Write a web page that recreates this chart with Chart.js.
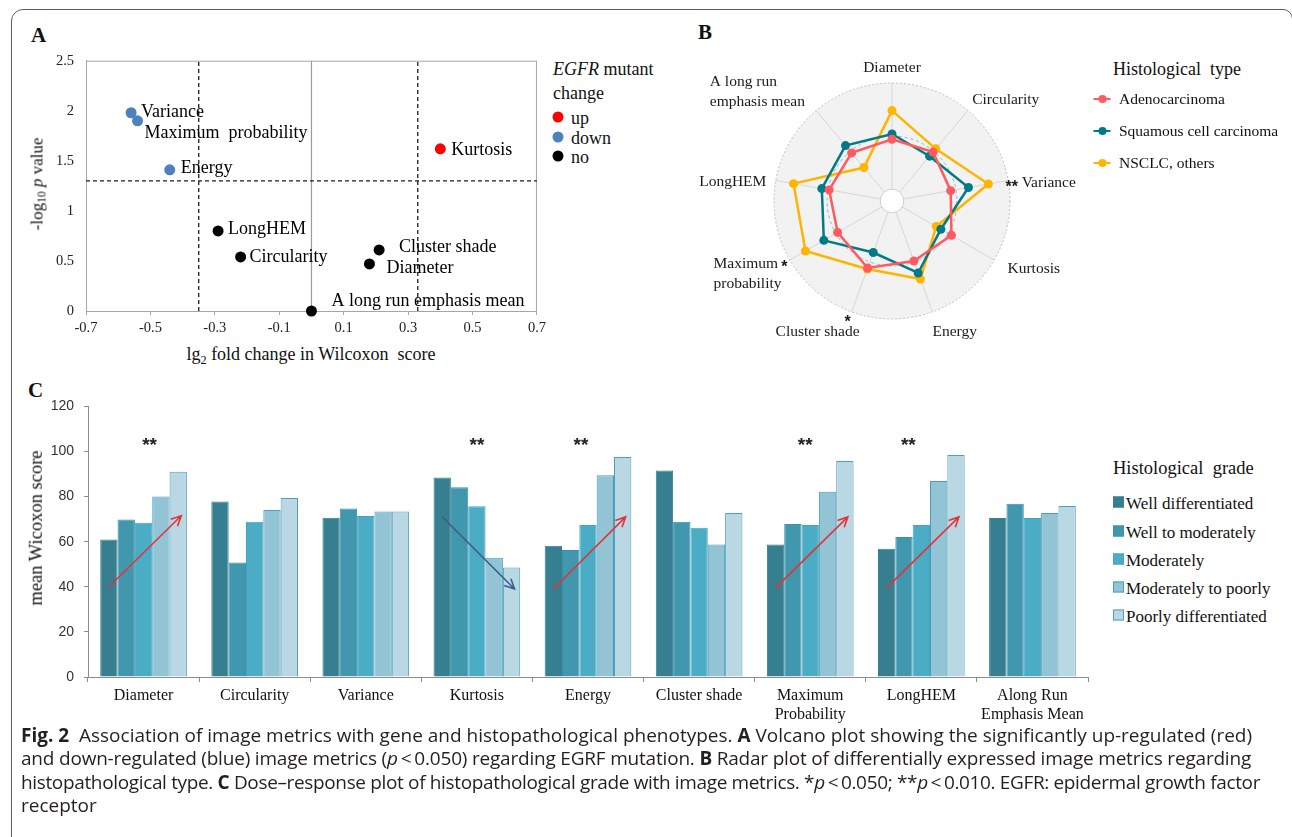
<!DOCTYPE html>
<html lang="en">
<head>
<meta charset="utf-8">
<title>Fig. 2 – Image metrics, EGFR mutation and histopathology</title>
<script src="https://cdn.jsdelivr.net/npm/chart.js@4.4.1/dist/chart.umd.min.js"></script>
<style>
  html, body { margin: 0; padding: 0; background: #fff; }
  body { position: relative; width: 1292px; height: 837px; overflow: hidden;
         font-family: "Liberation Serif", "Times New Roman", serif; color: #111; }
  .frame { position: absolute; left: 11px; top: 9px; width: 1282px; height: 900px;
           border: 1.5px solid #5c5c5c; border-radius: 12px 10px 0 0; box-sizing: border-box; }
  .abs { position: absolute; white-space: nowrap; line-height: 1; }
  .lm { transform: translateY(-50%); }
  .ctr { transform: translate(-50%, -50%); }
  .rot { transform: translate(-50%, -50%) rotate(-90deg); }
  .letter { position: absolute; font-weight: bold; font-size: 21px; line-height: 1; }
  canvas { position: absolute; }
  sub { font-size: 0.68em; vertical-align: -0.3em; line-height: 0; }
  .dot { position: absolute; width: 11px; height: 11px; border-radius: 50%; transform: translate(-50%, -50%); }
  .lineKey { position: absolute; width: 17px; height: 2px; transform: translate(-50%, -50%); }
  .lineKey::after { content: ""; position: absolute; left: 4.5px; top: -3.5px; width: 8px; height: 8px;
                    border-radius: 50%; background: inherit; }
  .sq { position: absolute; width: 9px; height: 9px; transform: translateY(-50%); border: 1px solid; }
  .caption { position: absolute; left: 21px; top: 724px; font-family: "Open Sans", "Liberation Sans", Arial, sans-serif;
             font-size: 17px; line-height: 23.4px; color: #231f20; white-space: nowrap; }
  .caption div { height: 23.4px; }
</style>
</head>
<body>
<div class="frame"></div>

<div class="letter" style="left:31px; top:25px;">A</div>
<div class="letter" style="left:698px; top:22px;">B</div>
<div class="letter" style="left:28px; top:380px;">C</div>

<!-- Panel A: volcano plot -->
<canvas id="volcano" width="520" height="300" style="left:30px; top:40px;"></canvas>
<div class="abs rot" style="left:37px; top:184px; font-size:17px;">-log<sub>10</sub> <i>p</i> value</div>
<div class="abs ctr" style="left:311px; top:354px; font-size:18px;">lg<sub>2</sub> fold change in Wilcoxon&nbsp; score</div>
<div id="volcanoLegend"></div>

<!-- Panel B: radar plot -->
<canvas id="radar" width="404" height="320" style="left:690px; top:40px;"></canvas>
<div id="radarLegend"></div>

<!-- Panel C: grouped bars -->
<canvas id="grades" width="1082" height="342" style="left:20px; top:388px;"></canvas>
<div class="abs rot" style="left:36px; top:528px; font-size:18.5px;">mean Wicoxon score</div>
<div id="gradeLegend"></div>

<div class="caption" id="caption">
<div><span class="capline" data-width="1231"><b>Fig. 2</b>&nbsp; Association of image metrics with gene and histopathological phenotypes. <b>A</b> Volcano plot showing the significantly up-regulated (red)</span></div>
<div><span class="capline" data-width="1230">and down-regulated (blue) image metrics (<i>p</i>&thinsp;&lt;&thinsp;0.050) regarding EGRF mutation. <b>B</b> Radar plot of differentially expressed image metrics regarding</span></div>
<div><span class="capline" data-width="1239">histopathological type. <b>C</b> Dose–response plot of histopathological grade with image metrics. *<i>p</i>&thinsp;&lt;&thinsp;0.050; **<i>p</i>&thinsp;&lt;&thinsp;0.010. EGFR: epidermal growth factor</span></div>
<div><span>receptor</span></div>
</div>

<script>
// ---------- Panel A: volcano plot data ----------
const volcanoMetrics = ['Variance', 'Maximum  probability', 'Energy', 'Kurtosis', 'LongHEM',
                        'Circularity', 'Cluster shade', 'Diameter', 'A long run emphasis mean'];
const volcanoFoldChange = [-0.56, -0.54, -0.44, 0.40, -0.29, -0.22, 0.21, 0.18, 0.00];
const volcanoNegLogP = [1.98, 1.90, 1.41, 1.62, 0.80, 0.54, 0.61, 0.47, 0.00];
const volcanoChange = ['down', 'down', 'down', 'up', 'no', 'no', 'no', 'no', 'no'];
const volcanoFoldCutoffs = [-0.35, 0.33];
const volcanoPCutoff = 1.30;
const volcanoXTicks = [-0.7, -0.5, -0.3, -0.1, 0.1, 0.3, 0.5, 0.7];
const volcanoYTicks = [0, 0.5, 1, 1.5, 2, 2.5];
const changeKeys = ['up', 'down', 'no'];

// ---------- Panel B: radar data ----------
const radarAxes = ['Diameter', 'Circularity', 'Variance', 'Kurtosis', 'Energy', 'Cluster shade',
                   'Maximum probability', 'LongHEM', 'A long run emphasis mean'];
const radarAxisLines = [['Diameter'], ['Circularity'], ['Variance'], ['Kurtosis'], ['Energy'], ['Cluster shade'],
                        ['Maximum', 'probability'], ['LongHEM'], ['A long run', 'emphasis mean']];
const radarSignificance = ['', '', '**', '', '', '*', '*', '', ''];
const histTypes = ['Adenocarcinoma', 'Squamous cell carcinoma', 'NSCLC, others'];
const adenocarcinoma = [0.47, 0.49, 0.45, 0.535, 0.49, 0.56, 0.48, 0.49, 0.48];
const squamousCell   = [0.52, 0.44, 0.62, 0.42, 0.61, 0.405, 0.63, 0.56, 0.57];
const nsclcOthers    = [0.74, 0.53, 0.81, 0.37, 0.67, 0.57, 0.83, 0.83, 0.30];
const radarGridLevels = [0, 0.5, 1];

// ---------- Panel C: histological grade data ----------
const gradeCategories = [['Diameter'], ['Circularity'], ['Variance'], ['Kurtosis'], ['Energy'], ['Cluster shade'],
                         ['Maximum', 'Probability'], ['LongHEM'], ['Along Run', 'Emphasis Mean']];
const gradeNames = ['Well differentiated', 'Well to moderately', 'Moderately', 'Moderately to poorly', 'Poorly differentiated'];
const wellDifferentiated   = [61.0, 77.8, 70.6, 88.5, 58.2, 91.6, 58.8, 56.9, 70.5];
const wellToModerately     = [69.9, 50.8, 74.7, 84.2, 56.3, 68.9, 67.8, 62.1, 76.8];
const moderatelyDiff       = [68.4, 68.9, 71.4, 75.7, 67.4, 66.2, 67.4, 67.4, 70.5];
const moderatelyToPoorly   = [80.0, 74.1, 73.4, 52.9, 89.5, 58.8, 82.2, 86.9, 72.7];
const poorlyDifferentiated = [91.0, 79.4, 73.4, 48.6, 97.6, 72.7, 95.8, 98.5, 75.8];
const gradeSignificance = ['**', '', '', '**', '**', '', '**', '**', ''];
const trendStart = [40, null, null, 71, 39, null, 39.5, 39.5, null];
const trendEnd   = [71.5, null, null, 39, 71, null, 71, 71, null];
const gradeYTicks = [0, 20, 40, 60, 80, 100, 120];

// ---------- Styles ----------
const SERIF = '"Liberation Serif", "Times New Roman", serif';
const SANS = '"Liberation Sans", Arial, sans-serif';
Chart.defaults.font.family = SERIF;
Chart.defaults.color = '#111';
const changeColors = { up: '#FF0000', down: '#4F81BD', no: '#000000' };
const typeColors = ['#FF5A5F', '#007A87', '#FFB400'];
const gradeFill = ['#357F90', '#4097AE', '#4BACC6', '#93C4D6', '#BAD8E4'];
const gradeEdge = ['#357F90', '#3B91A9', '#45A5BF', '#4A9EBA', '#4BA0BD'];
const axisGrey = '#A6A6A6';

// label offsets (px) from each volcano point, in metric order
const volcanoLabelShift = [[10, 0], [7, 12], [11, -2], [11, 1], [10, -2], [9, 0], [20, -3], [17, 4], [20, -10]];
// radar label anchors: alignment and nudges from the 1.15 x radius position
const radarLabelLayout = [
  { align: 'center', dx: 0, dy: 3 }, { align: 'left', dx: -7, dy: 3 }, { align: 'left', dx: -4, dy: 5 },
  { align: 'left', dx: -2, dy: 0 }, { align: 'left', dx: -6, dy: 3 }, { align: 'center', dx: -28, dy: 3 },
  { align: 'left', dx: -61, dy: 5 }, { align: 'right', dx: 8, dy: 4 }, { align: 'left', dx: -95, dy: -5 }
];
const radarStarShift = [null, null, [-14, 6], null, null, [2, -10], [10, -5], null, null];
const gradeStarShift = [6, 0, 0, 0, -7, 0, -5, -13, 0];
const gradeStarValue = 105;

// ================= Panel A =================
const volcanoSets = changeKeys.map(key => ({
  label: key,
  data: volcanoMetrics.map((m, i) => ({ x: volcanoFoldChange[i], y: volcanoNegLogP[i], idx: i }))
                      .filter(p => volcanoChange[p.idx] === key),
  backgroundColor: changeColors[key], borderColor: changeColors[key],
  pointRadius: 5.5, pointHoverRadius: 5.5, pointBorderWidth: 0, clip: false, metricPoints: true
}));
const refLine = (pts, color, dash, width) => ({
  data: pts, showLine: true, borderColor: color, borderDash: dash, borderWidth: width,
  pointRadius: 0, pointHoverRadius: 0, fill: false
});
const volcanoRefSets = [
  ...volcanoFoldCutoffs.map(c => refLine([{ x: c, y: 0 }, { x: c, y: 2.5 }], '#1c1c1c', [4, 3], 1.3)),
  refLine([{ x: -0.7, y: volcanoPCutoff }, { x: 0.7, y: volcanoPCutoff }], '#1c1c1c', [4, 3], 1.3),
  refLine([{ x: 0, y: 0 }, { x: 0, y: 2.5 }], '#9a9a9a', [], 1.2)
];

const volcanoDecor = {
  id: 'volcanoDecor',
  beforeDatasetsDraw(chart) {
    const { ctx, chartArea: a } = chart;
    ctx.save();
    ctx.strokeStyle = axisGrey; ctx.lineWidth = 1;
    ctx.strokeRect(a.left + 0.5, a.top + 0.5, a.right - a.left - 1, a.bottom - a.top);
    ctx.restore();
  },
  afterDatasetsDraw(chart) {
    const ctx = chart.ctx;
    ctx.save();
    ctx.font = '18px ' + SERIF;
    ctx.fillStyle = '#000';
    ctx.textAlign = 'left';
    ctx.textBaseline = 'middle';
    chart.data.datasets.forEach((ds, di) => {
      if (!ds.metricPoints) return;
      chart.getDatasetMeta(di).data.forEach((pt, k) => {
        const idx = ds.data[k].idx;
        const [dx, dy] = volcanoLabelShift[idx];
        ctx.fillText(volcanoMetrics[idx], pt.x + dx, pt.y + dy);
      });
    });
    ctx.restore();
  }
};

new Chart(document.getElementById('volcano'), {
  type: 'scatter',
  data: { datasets: [...volcanoSets, ...volcanoRefSets] },
  plugins: [volcanoDecor],
  options: {
    responsive: false, animation: false,
    layout: { padding: { left: 0, right: 12, top: 16, bottom: 0 } },
    plugins: { legend: { display: false }, tooltip: { enabled: false } },
    scales: {
      x: {
        type: 'linear', min: -0.7, max: 0.7,
        afterBuildTicks: s => { s.ticks = volcanoXTicks.map(v => ({ value: v })); },
        afterFit: s => { s.height = 29; },
        ticks: { font: { size: 14.5 }, color: '#222', padding: 4, callback: v => v.toFixed(1) },
        grid: { display: true, drawOnChartArea: false, drawTicks: true, tickLength: 4, color: axisGrey },
        border: { display: true, color: axisGrey }
      },
      y: {
        type: 'linear', min: 0, max: 2.5,
        afterBuildTicks: s => { s.ticks = volcanoYTicks.map(v => ({ value: v })); },
        afterFit: s => { s.width = 56; },
        ticks: { font: { size: 14.5 }, color: '#222', padding: 12, callback: v => String(v) },
        grid: { display: false, drawTicks: false },
        border: { display: true, color: axisGrey }
      }
    }
  }
});

// Panel A legend
(function () {
  const box = document.getElementById('volcanoLegend');
  let html = '<div class="abs lm" style="left:553px; top:69px; font-size:18px;"><i>EGFR</i> mutant</div>' +
             '<div class="abs lm" style="left:553px; top:93px; font-size:18px;">change</div>';
  const ys = [117, 137, 156];
  changeKeys.forEach((k, i) => {
    html += `<div class="dot" style="left:558px; top:${ys[i]}px; background:${changeColors[k]};"></div>` +
            `<div class="abs lm" style="left:571px; top:${ys[i] + 1}px; font-size:18px;">${k}</div>`;
  });
  box.innerHTML = html;
})();

// ================= Panel B =================
const radarCentreOffset = -1 / 9;
const radarDecor = {
  id: 'radarDecor',
  beforeDraw(chart) {
    const s = chart.scales.r, ctx = chart.ctx;
    ctx.save();
    ctx.fillStyle = '#F2F2F2';
    ctx.beginPath();
    ctx.arc(s.xCenter, s.yCenter, s.getDistanceFromCenterForValue(s.max), 0, Math.PI * 2);
    ctx.fill();
    ctx.restore();
  },
  beforeDatasetsDraw(chart) {
    const s = chart.scales.r, ctx = chart.ctx;
    const styles = [
      { fill: '#FFFFFF', stroke: '#CFCFCF', dash: [] },
      { fill: null, stroke: '#8DB9BF', dash: [3, 3] },
      { fill: null, stroke: '#BDBDBD', dash: [2, 2] }
    ];
    ctx.save();
    radarGridLevels.forEach((v, i) => {
      const r = s.getDistanceFromCenterForValue(v);
      ctx.beginPath();
      ctx.arc(s.xCenter, s.yCenter, r, 0, Math.PI * 2);
      if (styles[i].fill) { ctx.fillStyle = styles[i].fill; ctx.fill(); }
      ctx.setLineDash(styles[i].dash);
      ctx.strokeStyle = styles[i].stroke; ctx.lineWidth = 1;
      ctx.stroke();
    });
    ctx.restore();
  },
  afterDraw(chart) {
    const s = chart.scales.r, ctx = chart.ctx;
    ctx.save();
    ctx.fillStyle = '#1a1a1a';
    ctx.textBaseline = 'middle';
    radarAxes.forEach((name, i) => {
      const p = s.getPointPosition(i, s.drawingArea * 1.15);
      const lay = radarLabelLayout[i];
      const lines = radarAxisLines[i];
      const lh = 19.5;
      const y0 = p.y + lay.dy - (lines.length - 1) * lh / 2;
      ctx.font = '15.5px ' + SERIF;
      ctx.textAlign = lay.align;
      lines.forEach((ln, k) => ctx.fillText(ln, p.x + lay.dx, y0 + k * lh));
      if (radarSignificance[i]) {
        const [sx, sy] = radarStarShift[i];
        ctx.font = 'bold 16px ' + SANS;
        ctx.textAlign = 'center';
        ctx.fillText(radarSignificance[i], p.x + sx, p.y + sy + 4);
      }
    });
    ctx.restore();
  }
};

const radarSeries = [adenocarcinoma, squamousCell, nsclcOthers];
new Chart(document.getElementById('radar'), {
  type: 'radar',
  data: {
    labels: radarAxes,
    datasets: histTypes.map((t, i) => ({
      label: t, data: radarSeries[i], fill: false,
      borderColor: typeColors[i], backgroundColor: typeColors[i],
      pointBackgroundColor: typeColors[i], pointBorderWidth: 0,
      borderWidth: 2.5, pointRadius: 4.5, pointHoverRadius: 4.5, tension: 0
    }))
  },
  plugins: [radarDecor],
  options: {
    responsive: false, animation: false,
    layout: { padding: { left: 84, right: 84, top: 43, bottom: 41 } },
    plugins: { legend: { display: false }, tooltip: { enabled: false } },
    scales: {
      r: {
        min: radarCentreOffset, max: 1, beginAtZero: false,
        ticks: { display: false },
        grid: { display: false },
        angleLines: { display: true, color: '#D6D6D6', lineWidth: 1 },
        pointLabels: { display: false }
      }
    }
  }
});

// Panel B legend
(function () {
  const box = document.getElementById('radarLegend');
  let html = '<div class="abs lm" style="left:1113px; top:69px; font-size:18px;">Histological&nbsp; type</div>';
  const ys = [99, 131, 163];
  histTypes.forEach((t, i) => {
    html += `<div class="lineKey" style="left:1102px; top:${ys[i]}px; background:${typeColors[i]};"></div>` +
            `<div class="abs lm" style="left:1119px; top:${ys[i]}px; font-size:15.5px;">${t}</div>`;
  });
  box.innerHTML = html;
})();

// ================= Panel C =================
function drawArrow(ctx, x0, y0, x1, y1, color) {
  const ang = Math.atan2(y1 - y0, x1 - x0), head = 11, spread = 0.45;
  ctx.strokeStyle = color; ctx.lineWidth = 1.6;
  ctx.beginPath();
  ctx.moveTo(x0, y0); ctx.lineTo(x1, y1);
  ctx.moveTo(x1 - head * Math.cos(ang - spread), y1 - head * Math.sin(ang - spread));
  ctx.lineTo(x1, y1);
  ctx.lineTo(x1 - head * Math.cos(ang + spread), y1 - head * Math.sin(ang + spread));
  ctx.stroke();
}

const gradeAnnotations = {
  id: 'gradeAnnotations',
  afterDatasetsDraw(chart) {
    const ctx = chart.ctx, ys = chart.scales.y, xs = chart.scales.x;
    const firstBars = chart.getDatasetMeta(0).data, lastBars = chart.getDatasetMeta(gradeNames.length - 1).data;
    ctx.save();
    gradeCategories.forEach((c, i) => {
      if (gradeSignificance[i]) {
        ctx.font = 'bold 19px ' + SANS;
        ctx.fillStyle = '#222';
        ctx.textAlign = 'center';
        ctx.textBaseline = 'alphabetic';
        ctx.fillText(gradeSignificance[i], xs.getPixelForValue(i) + gradeStarShift[i], ys.getPixelForValue(gradeStarValue) + 11);
      }
      if (trendStart[i] !== null) {
        const up = trendEnd[i] > trendStart[i];
        drawArrow(ctx, firstBars[i].x, ys.getPixelForValue(trendStart[i]),
                  lastBars[i].x + 3, ys.getPixelForValue(trendEnd[i]), up ? '#E2333A' : '#3C5F8E');
      }
    });
    ctx.restore();
  }
};

const gradeSeries = [wellDifferentiated, wellToModerately, moderatelyDiff, moderatelyToPoorly, poorlyDifferentiated];
new Chart(document.getElementById('grades'), {
  type: 'bar',
  data: {
    labels: gradeCategories,
    datasets: gradeNames.map((n, k) => ({
      label: n, data: gradeSeries[k],
      backgroundColor: gradeFill[k], borderColor: gradeEdge[k], borderWidth: 1,
      categoryPercentage: 0.78, barPercentage: 1.0
    }))
  },
  plugins: [gradeAnnotations],
  options: {
    responsive: false, animation: false,
    layout: { padding: { left: 0, right: 14, top: 16, bottom: 0 } },
    plugins: { legend: { display: false }, tooltip: { enabled: false } },
    scales: {
      x: {
        afterFit: s => { s.height = 53; },
        ticks: { font: { size: 16 }, color: '#111', padding: 4, autoSkip: false, maxRotation: 0 },
        grid: { display: true, drawOnChartArea: false, drawTicks: true, tickLength: 5, color: '#8C8C8C', offset: true },
        border: { display: true, color: '#8C8C8C' }
      },
      y: {
        min: 0, max: 120,
        afterBuildTicks: s => { s.ticks = gradeYTicks.map(v => ({ value: v })); },
        afterFit: s => { s.width = 68; },
        ticks: { font: { family: SANS, size: 14 }, color: '#333', padding: 10 },
        grid: { display: true, drawOnChartArea: false, drawTicks: true, tickLength: 4, color: '#8C8C8C' },
        border: { display: true, color: '#8C8C8C' }
      }
    }
  }
});

// Panel C legend
(function () {
  const box = document.getElementById('gradeLegend');
  let html = '<div class="abs lm" style="left:1113px; top:468px; font-size:18.5px;">Histological&nbsp; grade</div>';
  const ys = [502, 531, 559, 587, 615];
  gradeNames.forEach((n, k) => {
    html += `<div class="sq" style="left:1113px; top:${ys[k]}px; background:${gradeFill[k]}; border-color:${gradeEdge[k]};"></div>` +
            `<div class="abs lm" style="left:1126px; top:${ys[k] + 1}px; font-size:17px;">${n}</div>`;
  });
  box.innerHTML = html;
})();

// Caption: size the type from the first line, then set each full line to its measure
(function () {
  const cap = document.getElementById('caption');
  const lines = Array.from(cap.querySelectorAll('.capline'));
  const size = parseFloat(getComputedStyle(cap).fontSize);
  const w0 = lines[0].getBoundingClientRect().width;
  if (w0 > 0) cap.style.fontSize = (size * Number(lines[0].dataset.width) / w0).toFixed(2) + 'px';
  lines.forEach(span => {
    const w = span.getBoundingClientRect().width;
    const n = span.textContent.length;
    if (w > 0 && n > 0) span.style.letterSpacing = ((Number(span.dataset.width) - w) / n).toFixed(3) + 'px';
  });
})();
</script>
</body>
</html>
